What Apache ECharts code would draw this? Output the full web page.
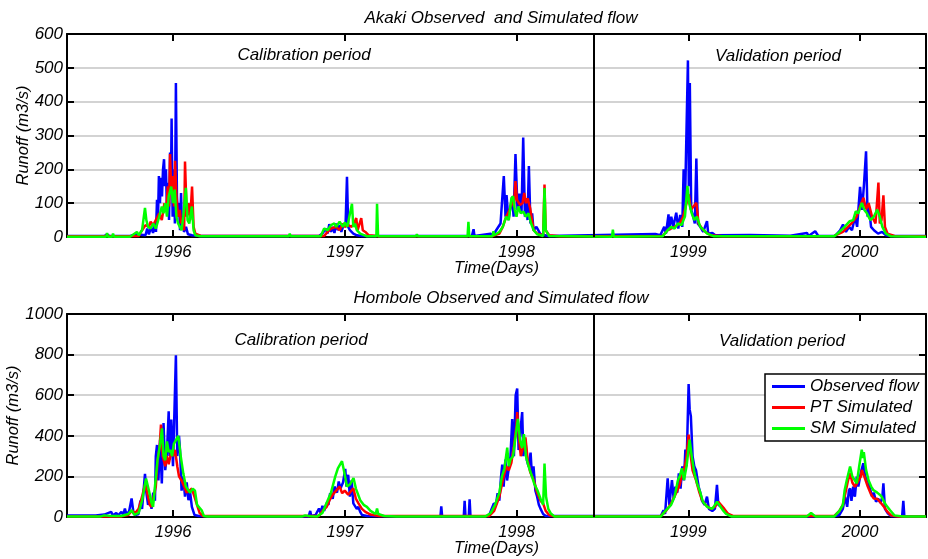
<!DOCTYPE html>
<html>
<head>
<meta charset="utf-8">
<script src="https://cdn.jsdelivr.net/npm/echarts@6/dist/echarts.min.js"></script>
<style>
html,body{margin:0;padding:0;background:#fff;}
#chart{width:928px;height:559px;}
</style>
</head>
<body>
<div id="chart"></div>
<script>
// ---------- data (x = decimal year, y = runoff m3/s) ----------
const yearTicks = [1996, 1997, 1998, 1999, 2000];
const xStart = 1995.383;
const xEnd = 2000.384;
const periodSplit = 1998.45;
const seriesNames = ['Observed flow', 'PT Simulated', 'SM Simulated'];
const panelTitles = ['Akaki Observed  and Simulated flow', 'Hombole Observed and Simulated flow'];
const periodLabels = ['Calibration period', 'Validation period'];
const yMax = [600, 1000];
const yStep = [100, 200];

// Akaki - observed
const akakiObs = [
[1995.383,3],[1995.60,3],[1995.616,8],[1995.63,3],[1995.75,3],[1995.79,8],[1995.80,3],
[1995.84,5],[1995.85,25],[1995.86,8],[1995.872,30],[1995.884,12],[1995.895,40],[1995.901,15],
[1995.907,110],[1995.913,60],[1995.918,180],[1995.924,100],[1995.930,175],[1995.936,120],[1995.942,200],
[1995.948,230],[1995.953,150],[1995.959,200],[1995.965,80],[1995.971,160],[1995.977,50],[1995.983,250],
[1995.988,140],[1995.992,350],[1995.998,60],[1996.006,200],[1996.011,40],[1996.017,455],[1996.023,120],
[1996.029,60],[1996.035,100],[1996.041,20],[1996.047,130],[1996.052,30],[1996.058,60],[1996.064,15],
[1996.076,30],[1996.087,8],[1996.111,5],[1996.157,3],[1996.85,3],[1996.87,10],[1996.88,5],[1996.89,25],
[1996.90,10],[1996.91,38],[1996.92,15],[1996.93,30],[1996.94,12],[1996.95,40],[1996.96,20],[1996.97,35],
[1996.98,15],[1996.99,30],[1997.005,40],[1997.013,178],[1997.02,30],[1997.03,20],[1997.04,25],[1997.05,10],
[1997.07,5],[1997.10,3],[1997.74,3],[1997.75,23],[1997.755,3],[1997.849,10],[1997.86,3],[1997.907,40],
[1997.926,180],[1997.936,60],[1997.942,124],[1997.953,50],[1997.975,119],[1997.983,60],[1997.994,245],
[1998.006,80],[1998.017,128],[1998.029,70],[1998.039,294],[1998.049,60],[1998.058,109],[1998.064,50],
[1998.072,210],[1998.081,40],[1998.091,70],[1998.099,20],[1998.116,30],[1998.140,8],[1998.186,3],
[1998.808,9],[1998.837,5],[1998.860,30],[1998.870,10],[1998.885,67],[1998.889,20],[1998.901,60],[1998.913,30],
[1998.930,72],[1998.942,25],[1998.953,65],[1998.965,30],[1998.973,200],[1998.980,60],[1998.985,200],
[1998.998,522],[1999.003,150],[1999.009,455],[1999.017,80],[1999.029,60],[1999.038,40],[1999.047,232],
[1999.055,40],[1999.070,30],[1999.087,15],[1999.109,47],[1999.116,10],[1999.140,12],[1999.157,5],
[1999.360,6],[1999.594,4],[1999.691,12],[1999.70,3],[1999.739,17],[1999.757,3],[1999.854,3],[1999.884,20],
[1999.901,37],[1999.918,15],[1999.936,30],[1999.953,20],[1999.971,60],[1999.983,30],[2000.000,148],
[2000.012,80],[2000.023,156],[2000.035,253],[2000.044,60],[2000.052,90],[2000.064,30],[2000.081,20],
[2000.105,10],[2000.128,15],[2000.151,5],[2000.186,3],[2000.384,3]
];
// Akaki - PT simulated
const akakiPT = [
[1995.383,2],[1995.60,2],[1995.616,5],[1995.63,2],[1995.80,3],[1995.82,20],[1995.84,35],[1995.86,30],
[1995.87,45],[1995.885,35],[1995.90,50],[1995.92,70],[1995.935,50],[1995.95,100],[1995.96,80],[1995.97,150],
[1995.977,90],[1995.983,245],[1995.99,130],[1996.00,180],[1996.006,90],[1996.012,225],[1996.02,120],
[1996.03,60],[1996.04,80],[1996.047,40],[1996.055,50],[1996.065,20],[1996.070,223],[1996.08,60],
[1996.09,100],[1996.10,50],[1996.111,149],[1996.12,30],[1996.13,10],[1996.16,4],[1996.88,3],[1996.90,15],
[1996.92,25],[1996.95,30],[1996.97,20],[1996.99,40],[1997.00,30],[1997.02,35],[1997.04,30],[1997.055,40],
[1997.067,56],[1997.075,20],[1997.085,25],[1997.096,56],[1997.105,20],[1997.12,15],[1997.14,5],[1997.20,2],
[1997.86,3],[1997.90,10],[1997.92,30],[1997.94,60],[1997.96,80],[1997.975,110],[1997.985,90],[1997.994,165],
[1998.003,110],[1998.02,95],[1998.035,100],[1998.045,130],[1998.055,100],[1998.065,114],[1998.08,84],
[1998.09,50],[1998.10,20],[1998.12,10],[1998.155,5],[1998.163,155],[1998.17,20],[1998.19,5],[1998.25,2],
[1998.85,3],[1998.88,20],[1998.92,30],[1998.95,40],[1998.97,60],[1998.99,100],[1999.003,126],[1999.015,80],
[1999.03,90],[1999.047,101],[1999.06,40],[1999.08,25],[1999.10,15],[1999.13,5],[1999.20,2],[1999.85,3],
[1999.90,15],[1999.95,40],[1999.98,60],[2000.00,90],[2000.02,116],[2000.035,82],[2000.05,100],[2000.07,60],
[2000.09,40],[2000.107,161],[2000.115,40],[2000.125,50],[2000.136,123],[2000.145,30],[2000.16,10],
[2000.20,3],[2000.384,2]
];
// Akaki - SM simulated
const akakiSM = [
[1995.383,1],[1995.611,1],[1995.616,12],[1995.621,1],[1995.646,1],[1995.651,10],[1995.656,1],[1995.75,1],
[1995.79,15],[1995.80,5],[1995.82,20],[1995.837,86],[1995.845,50],[1995.855,30],[1995.87,25],[1995.885,40],
[1995.90,25],[1995.92,60],[1995.935,90],[1995.945,70],[1995.955,100],[1995.965,60],[1995.975,120],
[1995.99,149],[1996.00,100],[1996.01,140],[1996.02,60],[1996.03,40],[1996.04,30],[1996.05,20],[1996.06,60],
[1996.075,145],[1996.085,50],[1996.095,40],[1996.11,90],[1996.12,20],[1996.13,5],[1996.16,2],[1996.675,2],
[1996.68,10],[1996.685,2],[1996.86,2],[1996.88,25],[1996.90,20],[1996.92,35],[1996.94,40],[1996.95,30],
[1996.97,45],[1996.99,30],[1997.00,43],[1997.015,30],[1997.042,98],[1997.05,30],[1997.06,40],[1997.07,20],
[1997.08,25],[1997.09,10],[1997.10,5],[1997.13,2],[1997.184,2],[1997.188,98],[1997.194,2],[1997.415,2],
[1997.42,8],[1997.425,2],[1997.715,2],[1997.72,45],[1997.725,2],[1997.86,2],[1997.866,17],[1997.87,5],
[1997.90,15],[1997.92,30],[1997.94,60],[1997.955,50],[1997.97,114],[1997.98,120],[1997.99,80],[1998.00,60],
[1998.01,90],[1998.025,70],[1998.04,75],[1998.055,60],[1998.07,70],[1998.085,40],[1998.10,20],[1998.12,8],
[1998.155,3],[1998.163,145],[1998.17,20],[1998.19,3],[1998.556,1],[1998.561,22],[1998.566,1],[1998.85,2],
[1998.88,20],[1998.90,30],[1998.92,25],[1998.94,40],[1998.96,35],[1998.98,60],[1998.995,151],[1999.005,100],
[1999.02,70],[1999.035,50],[1999.05,60],[1999.07,30],[1999.09,20],[1999.11,10],[1999.15,2],[1999.85,2],
[1999.88,15],[1999.91,30],[1999.94,47],[1999.96,50],[1999.975,76],[1999.99,70],[2000.01,101],[2000.025,80],
[2000.04,70],[2000.06,50],[2000.08,60],[2000.10,81],[2000.115,60],[2000.13,30],[2000.15,10],[2000.18,2],
[2000.384,1]
];
// Hombole - observed
const homboleObs = [
[1995.383,8],[1995.55,8],[1995.60,12],[1995.64,25],[1995.65,8],[1995.67,20],[1995.68,8],[1995.70,25],
[1995.71,10],[1995.72,41],[1995.73,10],[1995.745,30],[1995.759,91],[1995.77,20],[1995.78,10],[1995.80,15],
[1995.81,80],[1995.82,40],[1995.837,212],[1995.845,120],[1995.855,60],[1995.865,90],[1995.875,40],
[1995.885,120],[1995.895,80],[1995.90,300],[1995.907,355],[1995.915,180],[1995.925,380],[1995.935,165],
[1995.945,463],[1995.955,231],[1995.965,320],[1995.975,521],[1995.98,300],[1995.99,480],[1996.00,250],
[1996.017,797],[1996.025,300],[1996.035,400],[1996.041,330],[1996.05,130],[1996.06,200],[1996.07,100],
[1996.08,170],[1996.09,83],[1996.10,120],[1996.11,50],[1996.125,10],[1996.15,5],[1996.65,3],[1996.652,10],
[1996.66,3],[1996.79,3],[1996.799,30],[1996.805,5],[1996.83,10],[1996.85,42],[1996.86,20],[1996.87,55],
[1996.88,30],[1996.895,70],[1996.905,60],[1996.915,117],[1996.93,90],[1996.94,150],[1996.955,120],
[1996.965,175],[1996.975,140],[1996.99,170],[1997.003,237],[1997.01,150],[1997.02,208],[1997.03,100],
[1997.04,180],[1997.05,67],[1997.06,60],[1997.07,40],[1997.079,50],[1997.09,25],[1997.10,10],[1997.13,5],
[1997.557,3],[1997.562,53],[1997.567,3],[1997.693,3],[1997.698,80],[1997.703,3],[1997.722,3],[1997.727,87],
[1997.732,3],[1997.84,5],[1997.855,40],[1997.868,67],[1997.88,60],[1997.89,117],[1997.90,80],[1997.91,200],
[1997.917,258],[1997.925,150],[1997.935,283],[1997.945,180],[1997.955,240],[1997.965,300],[1997.975,483],
[1997.985,300],[1997.995,600],[1998.004,633],[1998.012,330],[1998.02,400],[1998.033,517],[1998.04,300],
[1998.052,383],[1998.06,280],[1998.07,250],[1998.082,317],[1998.09,200],[1998.099,250],[1998.11,130],
[1998.12,100],[1998.13,60],[1998.14,40],[1998.155,15],[1998.17,5],[1998.84,5],[1998.856,33],[1998.865,15],
[1998.88,191],[1998.89,60],[1998.905,182],[1998.915,90],[1998.925,150],[1998.936,120],[1998.945,215],
[1998.955,140],[1998.965,249],[1998.975,180],[1998.983,332],[1998.99,250],[1999.002,655],[1999.008,530],
[1999.015,497],[1999.025,300],[1999.035,250],[1999.045,230],[1999.06,150],[1999.07,120],[1999.08,80],
[1999.095,60],[1999.109,100],[1999.12,40],[1999.14,30],[1999.155,40],[1999.167,158],[1999.175,60],
[1999.19,50],[1999.204,40],[1999.22,20],[1999.25,5],[1999.85,3],[1999.88,10],[1999.90,40],[1999.913,100],
[1999.925,50],[1999.935,130],[1999.942,141],[1999.95,80],[1999.96,150],[1999.97,100],[1999.981,199],
[1999.99,150],[2000.005,220],[2000.019,265],[2000.03,200],[2000.045,182],[2000.058,140],[2000.07,100],
[2000.08,120],[2000.093,75],[2000.105,90],[2000.12,70],[2000.13,100],[2000.136,166],[2000.145,40],
[2000.16,20],[2000.18,5],[2000.245,3],[2000.252,80],[2000.258,3],[2000.384,3]
];
// Hombole - PT simulated
const hombolePT = [
[1995.383,3],[1995.70,3],[1995.74,10],[1995.76,30],[1995.78,20],[1995.80,40],[1995.82,100],[1995.837,160],
[1995.85,120],[1995.865,60],[1995.875,50],[1995.884,45],[1995.90,150],[1995.91,280],[1995.922,340],
[1995.930,455],[1995.94,300],[1995.955,250],[1995.965,300],[1995.975,260],[1995.99,320],[1996.00,300],
[1996.012,330],[1996.025,250],[1996.035,200],[1996.05,180],[1996.065,150],[1996.08,120],[1996.095,130],
[1996.11,140],[1996.125,100],[1996.14,60],[1996.155,20],[1996.175,5],[1996.85,5],[1996.87,30],[1996.895,50],
[1996.91,80],[1996.93,110],[1996.95,130],[1996.97,150],[1996.985,117],[1997.00,130],[1997.02,110],
[1997.05,142],[1997.065,90],[1997.08,67],[1997.10,40],[1997.12,25],[1997.15,12],[1997.20,5],[1997.84,5],
[1997.87,30],[1997.90,100],[1997.92,180],[1997.94,250],[1997.955,230],[1997.97,267],[1997.985,350],
[1998.00,450],[1998.004,517],[1998.015,380],[1998.025,300],[1998.04,350],[1998.052,392],[1998.065,280],
[1998.08,220],[1998.10,183],[1998.12,120],[1998.14,80],[1998.155,67],[1998.17,30],[1998.19,10],[1998.22,4],
[1998.84,5],[1998.87,30],[1998.90,66],[1998.93,120],[1998.95,158],[1998.965,215],[1998.98,250],
[1998.99,300],[1999.002,406],[1999.01,330],[1999.025,230],[1999.045,182],[1999.065,120],[1999.08,83],
[1999.10,60],[1999.13,40],[1999.155,50],[1999.175,75],[1999.19,60],[1999.21,40],[1999.23,17],[1999.26,5],
[1999.85,5],[1999.88,30],[1999.90,60],[1999.915,120],[1999.93,180],[1999.942,215],[1999.955,170],
[1999.97,149],[1999.985,170],[2000.005,200],[2000.01,232],[2000.025,199],[2000.045,150],[2000.065,110],
[2000.08,91],[2000.10,90],[2000.12,70],[2000.14,50],[2000.16,25],[2000.18,8],[2000.22,3],[2000.384,3]
];
// Hombole - SM simulated
const homboleSM = [
[1995.383,3],[1995.58,3],[1995.60,8],[1995.64,5],[1995.70,5],[1995.74,15],[1995.759,34],[1995.775,10],
[1995.80,20],[1995.82,80],[1995.843,190],[1995.86,130],[1995.875,70],[1995.884,50],[1995.895,150],
[1995.91,280],[1995.925,360],[1995.936,437],[1995.945,300],[1995.955,280],[1995.965,372],[1995.975,320],
[1995.985,330],[1995.995,300],[1996.005,360],[1996.031,400],[1996.045,300],[1996.06,215],[1996.075,150],
[1996.089,132],[1996.10,120],[1996.115,140],[1996.128,130],[1996.14,60],[1996.167,33],[1996.18,5],
[1996.20,2],[1996.75,2],[1996.77,8],[1996.80,4],[1996.84,3],[1996.87,20],[1996.89,60],[1996.906,92],
[1996.92,120],[1996.945,200],[1996.96,240],[1996.984,275],[1996.995,230],[1997.013,150],[1997.03,160],
[1997.051,192],[1997.065,140],[1997.09,83],[1997.11,60],[1997.129,50],[1997.15,30],[1997.18,15],
[1997.188,42],[1997.195,15],[1997.23,5],[1997.30,3],[1997.82,3],[1997.85,20],[1997.875,60],[1997.90,120],
[1997.915,200],[1997.93,240],[1997.946,342],[1997.955,250],[1997.965,283],[1997.98,300],[1997.995,400],
[1998.008,483],[1998.02,380],[1998.032,340],[1998.043,408],[1998.055,300],[1998.07,250],[1998.09,200],
[1998.105,160],[1998.121,133],[1998.14,90],[1998.155,60],[1998.163,263],[1998.172,100],[1998.185,40],
[1998.20,17],[1998.22,3],[1998.72,3],[1998.725,12],[1998.73,3],[1998.84,3],[1998.87,33],[1998.90,60],
[1998.92,100],[1998.94,182],[1998.95,200],[1998.963,240],[1998.975,182],[1998.99,250],[1999.008,381],
[1999.02,300],[1999.035,220],[1999.051,166],[1999.07,120],[1999.085,75],[1999.11,50],[1999.14,40],
[1999.155,60],[1999.167,75],[1999.18,60],[1999.20,35],[1999.22,15],[1999.25,3],[1999.69,3],[1999.715,20],
[1999.74,3],[1999.85,3],[1999.88,30],[1999.90,60],[1999.91,130],[1999.923,182],[1999.942,249],
[1999.955,200],[1999.97,180],[1999.981,166],[1999.995,250],[2000.01,332],[2000.017,290],[2000.022,320],
[2000.035,232],[2000.05,180],[2000.065,150],[2000.077,133],[2000.10,120],[2000.115,110],[2000.126,100],
[2000.15,60],[2000.175,33],[2000.20,8],[2000.25,3],[2000.384,3]
];

const panels = [[akakiObs, akakiPT, akakiSM], [homboleObs, hombolePT, homboleSM]];
const colors = ['#0000ff', '#ff0000', '#00ff00'];

// ---------- chart ----------
const FONT = '"Liberation Sans", Arial, Helvetica, sans-serif';
const gridTops = [34, 314];
const gridH = 203;
const gridLeft = 67, gridRight = 2;
const yNameGaps = [35, 45];

const grids = gridTops.map(t => ({left: gridLeft, right: gridRight, top: t, height: gridH,
  containLabel: false, outerBoundsMode: 'none'}));

const xAxes = [], yAxes = [];
[0, 1].forEach(g => {
  const baseX = {
    gridIndex: g, type: 'value', min: xStart, max: xEnd,
    axisLine: {show: true, onZero: false, lineStyle: {color: '#000', width: 2}},
    axisTick: {show: true, inside: true, length: 7, lineStyle: {color: '#000', width: 2}, customValues: yearTicks},
    splitLine: {show: false}
  };
  xAxes.push(Object.assign({}, baseX, {
    position: 'bottom',
    name: 'Time(Days)', nameLocation: 'middle', nameGap: 23, nameMoveOverlap: false,
    nameTextStyle: {fontFamily: FONT, fontStyle: 'italic', fontSize: 16.5, color: '#000'},
    axisLabel: {show: true, customValues: yearTicks, margin: 7, fontFamily: FONT, fontStyle: 'italic', fontSize: 16.5, color: '#000',
      formatter: v => String(Math.round(v))}
  }));
  xAxes.push(Object.assign({}, baseX, {position: 'top', axisLabel: {show: false}}));
  const baseY = {
    gridIndex: g, type: 'value', min: 0, max: yMax[g], interval: yStep[g],
    axisLine: {show: true, onZero: false, lineStyle: {color: '#000', width: 2}},
    axisTick: {show: true, inside: true, length: 7, lineStyle: {color: '#000', width: 2}}
  };
  yAxes.push(Object.assign({}, baseY, {
    position: 'left',
    name: 'Runoff (m3/s)', nameLocation: 'middle', nameGap: yNameGaps[g], nameMoveOverlap: false,
    nameTextStyle: {fontFamily: FONT, fontStyle: 'italic', fontSize: 16.5, color: '#000'},
    axisLabel: {show: true, margin: 4, fontFamily: FONT, fontStyle: 'italic', fontSize: 17, color: '#000',
      formatter: v => String(v)},
    splitLine: {show: true, lineStyle: {color: '#c4c4c4', width: 1.5}}
  }));
  yAxes.push(Object.assign({}, baseY, {position: 'right', axisLabel: {show: false}, splitLine: {show: false}}));
});

const series = [];
[0, 1].forEach(g => {
  panels[g].forEach((d, i) => {
    const s = {
      type: 'line', name: seriesNames[i], data: d,
      xAxisIndex: g * 2, yAxisIndex: g * 2,
      showSymbol: false, symbol: 'none',
      lineStyle: {color: colors[i], width: 2.5},
      itemStyle: {color: colors[i]},
      z: 2 + i
    };
    if (i === 0) {
      s.markLine = {
        silent: true, symbol: ['none', 'none'], label: {show: false},
        lineStyle: {color: '#000', width: 2, type: 'solid'},
        data: [{xAxis: periodSplit}], animation: false
      };
    }
    series.push(s);
  });
});

const titles = [
  {text: panelTitles[0], left: 496, top: 5, textAlign: 'center',
   textStyle: {fontFamily: FONT, fontStyle: 'italic', fontWeight: 'normal', fontSize: 17, color: '#000'}},
  {text: panelTitles[1], left: 496, top: 285, textAlign: 'center',
   textStyle: {fontFamily: FONT, fontStyle: 'italic', fontWeight: 'normal', fontSize: 17, color: '#000'}}
];

const chart = echarts.init(document.getElementById('chart'), null, {renderer: 'canvas'});
chart.setOption({
  animation: false,
  backgroundColor: '#fff',
  title: titles,
  grid: grids,
  xAxis: xAxes,
  yAxis: yAxes,
  legend: {
    data: seriesNames, orient: 'vertical', left: 765, top: 374,
    padding: [3, 7, 3, 7], itemGap: 2, itemWidth: 33, itemHeight: 3, icon: 'rect',
    backgroundColor: '#fff', borderColor: '#000', borderWidth: 1.5, borderRadius: 0,
    textStyle: {fontFamily: FONT, fontStyle: 'italic', fontSize: 17, color: '#000', lineHeight: 19}
  },
  graphic: [
    {type: 'text', x: 304, y: 55, z: 10, style: {text: periodLabels[0], fontFamily: FONT, fontStyle: 'italic', fontSize: 17, fill: '#000', align: 'center', verticalAlign: 'middle'}},
    {type: 'text', x: 778, y: 56, z: 10, style: {text: periodLabels[1], fontFamily: FONT, fontStyle: 'italic', fontSize: 17, fill: '#000', align: 'center', verticalAlign: 'middle'}},
    {type: 'text', x: 301, y: 340, z: 10, style: {text: periodLabels[0], fontFamily: FONT, fontStyle: 'italic', fontSize: 17, fill: '#000', align: 'center', verticalAlign: 'middle'}},
    {type: 'text', x: 782, y: 341, z: 10, style: {text: periodLabels[1], fontFamily: FONT, fontStyle: 'italic', fontSize: 17, fill: '#000', align: 'center', verticalAlign: 'middle'}}
  ],
  series: series
});
</script>
</body>
</html>
